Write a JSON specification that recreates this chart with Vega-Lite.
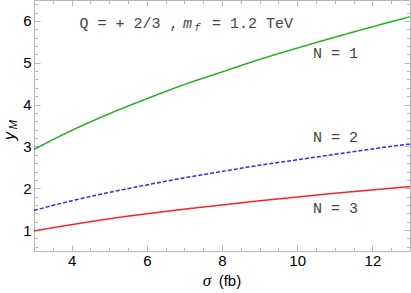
{
  "$schema": "https://vega.github.io/schema/vega-lite/v6.json",
  "width": 376,
  "height": 251,
  "autosize": {"type": "none"},
  "padding": {"left": 34, "top": 0, "right": 1, "bottom": 42},
  "background": "white",
  "config": {
    "view": {"stroke": null},
    "axis": {
      "grid": false,
      "domainColor": "#b8b8b8",
      "tickColor": "#b8b8b8",
      "labelFont": "Liberation Sans",
      "labelFontSize": 15,
      "labelColor": "#000000",
      "labelOverlap": false,
      "labelBound": false,
      "labelFlush": false,
      "title": null
    }
  },
  "resolve": {"axis": {"x": "independent", "y": "independent"}},
  "layer": [
    {
      "data": {"values": [
        {"sigma": 3, "yM": 2.93, "N": "1"}, {"sigma": 4, "yM": 3.38, "N": "1"}, {"sigma": 5, "yM": 3.78, "N": "1"}, {"sigma": 6, "yM": 4.14, "N": "1"}, {"sigma": 7, "yM": 4.48, "N": "1"}, {"sigma": 8, "yM": 4.78, "N": "1"}, {"sigma": 9, "yM": 5.08, "N": "1"}, {"sigma": 10, "yM": 5.35, "N": "1"}, {"sigma": 11, "yM": 5.61, "N": "1"}, {"sigma": 12, "yM": 5.86, "N": "1"}, {"sigma": 13, "yM": 6.10, "N": "1"},
        {"sigma": 3, "yM": 1.47, "N": "2"}, {"sigma": 4, "yM": 1.70, "N": "2"}, {"sigma": 5, "yM": 1.90, "N": "2"}, {"sigma": 6, "yM": 2.08, "N": "2"}, {"sigma": 7, "yM": 2.25, "N": "2"}, {"sigma": 8, "yM": 2.40, "N": "2"}, {"sigma": 9, "yM": 2.55, "N": "2"}, {"sigma": 10, "yM": 2.68, "N": "2"}, {"sigma": 11, "yM": 2.81, "N": "2"}, {"sigma": 12, "yM": 2.94, "N": "2"}, {"sigma": 13, "yM": 3.06, "N": "2"},
        {"sigma": 3, "yM": 0.98, "N": "3"}, {"sigma": 4, "yM": 1.13, "N": "3"}, {"sigma": 5, "yM": 1.27, "N": "3"}, {"sigma": 6, "yM": 1.39, "N": "3"}, {"sigma": 7, "yM": 1.50, "N": "3"}, {"sigma": 8, "yM": 1.60, "N": "3"}, {"sigma": 9, "yM": 1.70, "N": "3"}, {"sigma": 10, "yM": 1.79, "N": "3"}, {"sigma": 11, "yM": 1.88, "N": "3"}, {"sigma": 12, "yM": 1.96, "N": "3"}, {"sigma": 13, "yM": 2.04, "N": "3"}
      ]},
      "mark": {"type": "line", "strokeWidth": 1.5, "interpolate": "monotone"},
      "encoding": {
        "x": {
          "field": "sigma", "type": "quantitative",
          "scale": {"domain": [3, 13], "nice": false, "zero": false},
          "axis": {
            "orient": "bottom",
            "values": [3.5, 4, 4.5, 5, 5.5, 6, 6.5, 7, 7.5, 8, 8.5, 9, 9.5, 10, 10.5, 11, 11.5, 12, 12.5],
            "labelExpr": "datum.value % 2 === 0 ? format(datum.value, 'd') : ''",
            "tickSize": {"condition": {"test": "datum.value % 2 === 0", "value": -6}, "value": -3.5},
            "labelPadding": 8
          }
        },
        "y": {
          "field": "yM", "type": "quantitative",
          "scale": {"domain": [0.5, 6.5], "nice": false, "zero": false},
          "axis": {
            "orient": "left",
            "values": [0.6, 0.8, 1, 1.2, 1.4, 1.6, 1.8, 2, 2.2, 2.4, 2.6, 2.8, 3, 3.2, 3.4, 3.6, 3.8, 4, 4.2, 4.4, 4.6, 4.8, 5, 5.2, 5.4, 5.6, 5.8, 6, 6.2, 6.4],
            "labelExpr": "datum.value % 1 === 0 ? format(datum.value, 'd') : ''",
            "tickSize": {"condition": {"test": "datum.value % 1 === 0", "value": -6}, "value": -3.5},
            "labelPadding": 9
          }
        },
        "color": {"field": "N", "type": "nominal", "scale": {"domain": ["1", "2", "3"], "range": ["#22b022", "#2a2aff", "#ff2020"]}, "legend": null},
        "strokeDash": {"field": "N", "type": "nominal", "scale": {"domain": ["1", "2", "3"], "range": [[1, 0], [4, 2], [1, 0]]}, "legend": null}
      }
    },
    {
      "data": {"values": [
        {"x": 10.42, "y": 5.12, "t": "N = 1"},
        {"x": 10.42, "y": 3.115, "t": "N = 2"},
        {"x": 10.42, "y": 1.40, "t": "N = 3"},
        {"x": 4.21, "y": 5.835, "t": "Q = + 2/3 ,"},
        {"x": 7.734, "y": 5.835, "t": "= 1.2 TeV"}
      ]},
      "mark": {"type": "text", "font": "Liberation Mono", "fontSize": 15, "align": "left", "baseline": "alphabetic", "color": "#444444"},
      "encoding": {
        "x": {
          "field": "x", "type": "quantitative",
          "axis": {
            "orient": "top",
            "values": [3.5, 4, 4.5, 5, 5.5, 6, 6.5, 7, 7.5, 8, 8.5, 9, 9.5, 10, 10.5, 11, 11.5, 12, 12.5],
            "labels": false,
            "tickSize": {"condition": {"test": "datum.value % 2 === 0", "value": -6}, "value": -3.5}
          }
        },
        "y": {
          "field": "y", "type": "quantitative",
          "axis": {
            "orient": "right",
            "values": [0.6, 0.8, 1, 1.2, 1.4, 1.6, 1.8, 2, 2.2, 2.4, 2.6, 2.8, 3, 3.2, 3.4, 3.6, 3.8, 4, 4.2, 4.4, 4.6, 4.8, 5, 5.2, 5.4, 5.6, 5.8, 6, 6.2, 6.4],
            "labels": false,
            "tickSize": {"condition": {"test": "datum.value % 1 === 0", "value": -6}, "value": -3.5}
          }
        },
        "text": {"field": "t"}
      }
    },
    {
      "data": {"values": [{"x": 6.963, "y": 5.835, "t": "m"}]},
      "mark": {"type": "text", "font": "Liberation Mono", "fontSize": 15, "fontStyle": "italic", "align": "left", "baseline": "alphabetic", "color": "#444444"},
      "encoding": {
        "x": {"field": "x", "type": "quantitative", "axis": null},
        "y": {"field": "y", "type": "quantitative", "axis": null},
        "text": {"field": "t"}
      }
    },
    {
      "data": {"values": [{"x": 7.27, "y": 5.76, "t": "f"}]},
      "mark": {"type": "text", "font": "Liberation Mono", "fontSize": 10, "fontStyle": "italic", "align": "left", "baseline": "alphabetic", "color": "#444444"},
      "encoding": {
        "x": {"field": "x", "type": "quantitative", "axis": null},
        "y": {"field": "y", "type": "quantitative", "axis": null},
        "text": {"field": "t"}
      }
    },
    {
      "data": {"values": [{"x": 7.6, "y": -0.22, "t": "σ"}]},
      "mark": {"type": "text", "font": "Liberation Serif", "fontSize": 17, "fontStyle": "italic", "align": "center", "baseline": "middle", "color": "#000000"},
      "encoding": {
        "x": {"field": "x", "type": "quantitative", "axis": null},
        "y": {"field": "y", "type": "quantitative", "axis": null},
        "text": {"field": "t"}
      }
    },
    {
      "data": {"values": [{"x": 8.21, "y": -0.22, "t": "(fb)"}]},
      "mark": {"type": "text", "font": "Liberation Sans", "fontSize": 15, "align": "center", "baseline": "middle", "color": "#000000"},
      "encoding": {
        "x": {"field": "x", "type": "quantitative", "axis": null},
        "y": {"field": "y", "type": "quantitative", "axis": null},
        "text": {"field": "t"}
      }
    },
    {
      "data": {"values": [{"x": 2.37, "y": 3.25, "t": "y"}]},
      "mark": {"type": "text", "font": "Liberation Sans", "fontSize": 16, "fontStyle": "italic", "align": "center", "baseline": "middle", "angle": 270, "color": "#000000"},
      "encoding": {
        "x": {"field": "x", "type": "quantitative", "axis": null},
        "y": {"field": "y", "type": "quantitative", "axis": null},
        "text": {"field": "t"}
      }
    },
    {
      "data": {"values": [{"x": 2.46, "y": 3.52, "t": "M"}]},
      "mark": {"type": "text", "font": "Liberation Sans", "fontSize": 11, "fontStyle": "italic", "align": "center", "baseline": "middle", "angle": 270, "color": "#000000"},
      "encoding": {
        "x": {"field": "x", "type": "quantitative", "axis": null},
        "y": {"field": "y", "type": "quantitative", "axis": null},
        "text": {"field": "t"}
      }
    }
  ]
}
